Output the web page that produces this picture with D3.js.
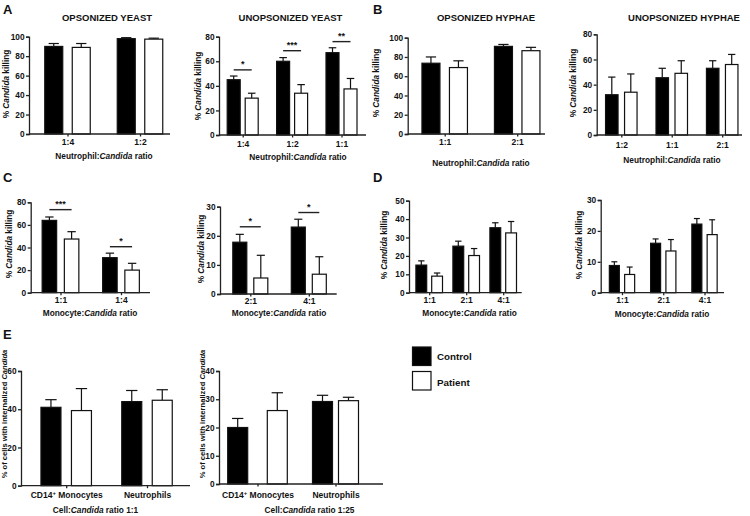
<!DOCTYPE html>
<html><head><meta charset="utf-8">
<script src="https://cdn.jsdelivr.net/npm/d3@7"></script>
<style>
body{margin:0;background:#fff;}
text{font-family:"Liberation Sans",Arial,Helvetica,sans-serif;font-weight:bold;fill:#111;}
</style></head>
<body><svg id="c" width="750" height="516"></svg>
<script>
// ---------- DATA ----------
const catsA1 = ["1:4","1:2"];
const ctrlA1 = [90,98],   ctrlErrA1 = [3,1];
const patA1  = [89,97.5], patErrA1  = [4,1];

const catsA2 = ["1:4","1:2","1:1"];
const ctrlA2 = [45,60,67],   ctrlErrA2 = [3,3,4];
const patA2  = [30,34,37.5], patErrA2  = [4,7,8.5];
const sigA2  = [{cat:"1:4",label:"*",v:53},{cat:"1:2",label:"***",v:68.6},{cat:"1:1",label:"**",v:76}];

const catsB1 = ["1:1","2:1"];
const ctrlB1 = [73.5,91], ctrlErrB1 = [6.5,2];
const patB1  = [69,86.5], patErrB1  = [7,3.5];

const catsB2 = ["1:2","1:1","2:1"];
const ctrlB2 = [32,45.5,53], ctrlErrB2 = [14,7.5,6];
const patB2  = [34,49,56],   patErrB2  = [14.5,10,8];

const catsC1 = ["1:1","1:4"];
const ctrlC1 = [64,31],   ctrlErrC1 = [3,4];
const patC1  = [47.5,20], patErrC1  = [6.5,6];
const sigC1  = [{cat:"1:1",label:"***",v:73.5},{cat:"1:4",label:"*",v:40.7}];

const catsC2 = ["2:1","4:1"];
const ctrlC2 = [17.8,23], ctrlErrC2 = [2.7,2.7];
const patC2  = [5.5,6.8], patErrC2  = [7.8,6];
const sigC2  = [{cat:"2:1",label:"*",v:23.1},{cat:"4:1",label:"*",v:28}];

const catsD1 = ["1:1","2:1","4:1"];
const ctrlD1 = [15,25.3,35.3], ctrlErrD1 = [2.3,2.7,2.7];
const patD1  = [9,20.2,32.5],  patErrD1  = [1.7,3.8,6.2];

const catsD2 = ["1:1","2:1","4:1"];
const ctrlD2 = [8.8,16,22.2], ctrlErrD2 = [1.2,1.4,1.8];
const patD2  = [5.9,13.5,18.8], patErrD2 = [2.4,3.7,4.8];

const catsE = ["CD14+ Monocytes","Neutrophils"];
const ctrlE1 = [41,44],     ctrlErrE1 = [4,5.8];
const patE1  = [39.3,44.7], patErrE1  = [11.5,5.5];
const ctrlE2 = [20,29.2],   ctrlErrE2 = [3.2,2.2];
const patE2  = [26,29.5],   patErrE2  = [6.3,1.2];

const seriesNames = ["Control","Patient"];

// ---------- LAYOUT ----------
const svg = d3.select("#c");

function richText(sel, parts){ // parts: [text, italic?, sup?]
  parts.forEach(p=>{
    const t = sel.append("tspan").text(p[0]);
    if(p[1]) t.style("font-style","italic");
    if(p[2]) t.attr("baseline-shift","super").attr("font-size","70%");
  });
}

function panel(cfg){
  const g = svg.append("g");
  const y = d3.scaleLinear().domain([0,cfg.max]).range([cfg.y0,cfg.yTop]);
  const x = d3.scalePoint().domain(cfg.cats).range([cfg.c0,cfg.c1]);
  cfg.cats.forEach((c,i)=>{
    const gap = cfg.gaps ? cfg.gaps[i] : cfg.gap;
    const bw = cfg.bw;
    const sub = d3.scaleBand().domain(seriesNames)
      .range([-(bw+gap/2), bw+gap/2]).paddingInner(gap/(bw+gap)).paddingOuter(0);
    const vals = [[cfg.ctrl[i],cfg.ctrlErr[i]],[cfg.pat[i],cfg.patErr[i]]];
    seriesNames.forEach((s,k)=>{
      const xl = x(c)+sub(s);
      const v = vals[k][0], e = vals[k][1];
      const cx = xl + sub.bandwidth()/2;
      g.append("line").attr("x1",cx).attr("x2",cx).attr("y1",y(v)).attr("y2",y(v+e))
        .attr("stroke","#111").attr("stroke-width",1.2);
      g.append("line").attr("x1",cx-sub.bandwidth()*0.27).attr("x2",cx+sub.bandwidth()*0.27)
        .attr("y1",y(v+e)).attr("y2",y(v+e)).attr("stroke","#111").attr("stroke-width",1.2);
      g.append("rect").attr("x",xl+0.5).attr("y",y(v)).attr("width",sub.bandwidth()-1)
        .attr("height",y(0)-y(v))
        .attr("fill", k===0?"#000":"#fff").attr("stroke","#111").attr("stroke-width",1.2);
    });
    if(cfg.sig){
      cfg.sig.filter(d=>d.cat===c).forEach(d=>{
        const xa = x(c)+sub("Control")+sub.bandwidth()/2, xb = x(c)+sub("Patient")+sub.bandwidth()/2;
        g.append("line").attr("x1",xa).attr("x2",xb).attr("y1",y(d.v)).attr("y2",y(d.v))
          .attr("stroke","#222").attr("stroke-width",1.4);
        g.append("text").attr("x",(xa+xb)/2).attr("y",y(d.v)-2.5).attr("text-anchor","middle")
          .attr("font-size",9).text(d.label);
      });
    }
  });
  // y axis
  const ya = g.append("g").attr("transform",`translate(${cfg.x0},0)`)
    .call(d3.axisLeft(y).tickValues(d3.range(0,cfg.max+0.001,cfg.step)).tickSize(3).tickPadding(1.5).tickFormat(d3.format("d")));
  ya.attr("font-family",null);
  ya.selectAll("text").attr("font-size",8.3);
  ya.selectAll("line,path").attr("stroke","#222").attr("stroke-width",1.3);
  // x axis
  const xa = g.append("g").attr("transform",`translate(0,${cfg.y0})`)
    .call(d3.axisBottom(x).tickSize(2.5).tickPadding(cfg.tickPad));
  xa.select(".domain").remove();
  xa.attr("font-family",null);
  xa.selectAll("line").attr("stroke","#222").attr("stroke-width",1.3);
  xa.selectAll("text").attr("font-size",8.5).each(function(d){
    const t = d3.select(this); t.text(null);
    if(d.indexOf("CD14+")===0){ richText(t,[["CD14"],["+",false,true],[d.slice(5)]]); }
    else t.text(d);
  });
  g.append("line").attr("x1",cfg.x0).attr("x2",cfg.x1).attr("y1",cfg.y0).attr("y2",cfg.y0)
    .attr("stroke","#222").attr("stroke-width",1.3);
  // titles
  if(cfg.title) g.append("text").attr("x",cfg.title[0]).attr("y",cfg.title[1]).attr("text-anchor","middle")
    .attr("font-size",9.5).text(cfg.title[2]);
  const xt = g.append("text").attr("x",cfg.xt[0]).attr("y",cfg.xt[1]).attr("text-anchor","middle").attr("font-size",8.3);
  richText(xt, cfg.xt[2]);
  const yt = g.append("text").attr("transform",`translate(${cfg.yt[0]},${cfg.yt[1]}) rotate(-90)`)
    .attr("text-anchor","middle").attr("font-size",cfg.ytSize||8.3);
  richText(yt, cfg.yt[2]);
}

const neutT = [["Neutrophil:"],["Candida",true],[" ratio"]];
const monoT = [["Monocyte:"],["Candida",true],[" ratio"]];
const killT = [["% "],["Candida",true],[" killing"]];
const intT  = [["% of cells with internalized "],["Candida",true]];

panel({cats:catsA1,ctrl:ctrlA1,ctrlErr:ctrlErrA1,pat:patA1,patErr:patErrA1,
  x0:29,x1:170,y0:134,yTop:36.7,max:100,step:20,c0:67.5,c1:140,bw:19,gap:8.5,tickPad:2,
  title:[107,21,"OPSONIZED YEAST"],xt:[104,159,neutT],yt:[9,84,killT]});
panel({cats:catsA2,ctrl:ctrlA2,ctrlErr:ctrlErrA2,pat:patA2,patErr:patErrA2,sig:sigA2,
  x0:219,x1:366,y0:135,yTop:36.7,max:80,step:20,c0:242.7,c1:341.5,bw:14,gap:4,tickPad:3,
  title:[290.5,21,"UNOPSONIZED YEAST"],xt:[298,160,neutT],yt:[201,86,killT]});
panel({cats:catsB1,ctrl:ctrlB1,ctrlErr:ctrlErrB1,pat:patB1,patErr:patErrB1,
  x0:407.7,x1:545,y0:134,yTop:37.7,max:100,step:20,c0:444.7,c1:517.2,bw:19,gap:8.5,tickPad:2,
  title:[486,21,"OPSONIZED HYPHAE"],xt:[481,166,neutT],yt:[379,83,killT]});
panel({cats:catsB2,ctrl:ctrlB2,ctrlErr:ctrlErrB2,pat:patB2,patErr:patErrB2,
  x0:596.7,x1:742,y0:135,yTop:34.3,max:80,step:20,c0:621.3,c1:722.2,bw:13.5,gap:5.5,tickPad:4.5,
  title:[684,21,"UNOPSONIZED HYPHAE"],xt:[672,163,neutT],yt:[576,83,killT]});
panel({cats:catsC1,ctrl:ctrlC1,ctrlErr:ctrlErrC1,pat:patC1,patErr:patErrC1,sig:sigC1,
  x0:30.7,x1:150,y0:292.7,yTop:202.3,max:80,step:20,c0:60.5,c1:121,bw:15.5,gap:6.7,tickPad:1.5,
  xt:[90,316,monoT],yt:[12,244,killT]});
panel({cats:catsC2,ctrl:ctrlC2,ctrlErr:ctrlErrC2,pat:patC2,patErr:patErrC2,sig:sigC2,
  x0:220,x1:336.7,y0:294,yTop:206.7,max:30,step:10,c0:250.3,c1:308.8,bw:15,gap:6,tickPad:1.7,
  xt:[279,316,monoT],yt:[204,249,killT]});
panel({cats:catsD1,ctrl:ctrlD1,ctrlErr:ctrlErrD1,pat:patD1,patErr:patErrD1,
  x0:409,x1:521.7,y0:292.7,yTop:200.7,max:50,step:10,c0:429.2,c1:503.2,bw:11.8,gap:4,tickPad:1.5,
  xt:[469.5,316,monoT],yt:[387,245,killT]});
panel({cats:catsD2,ctrl:ctrlD2,ctrlErr:ctrlErrD2,pat:patD2,patErr:patErrD2,
  x0:600.7,x1:724,y0:292.7,yTop:200,max:30,step:10,c0:622,c1:704.5,bw:11,gap:4.3,tickPad:1.5,
  xt:[662,317,monoT],yt:[582,245,killT]});
panel({cats:catsE,ctrl:ctrlE1,ctrlErr:ctrlErrE1,pat:patE1,patErr:patErrE1,
  x0:21,x1:190,y0:485.7,yTop:371,max:60,step:20,c0:66.2,c1:147,bw:21,gap:9.5,tickPad:4,
  xt:[95.5,513,[["Cell:"],["Candida",true],[" ratio 1:1"]]],yt:[7,414,intT],ytSize:7.6});
panel({cats:catsE,ctrl:ctrlE2,ctrlErr:ctrlErrE2,pat:patE2,patErr:patErrE2,
  x0:219,x1:383,y0:484,yTop:371,max:40,step:10,c0:257.5,c1:335.5,bw:21,gaps:[18.6,5],tickPad:5.5,
  xt:[309.5,513,[["Cell:"],["Candida",true],[" ratio 1:25"]]],yt:[205,414,intT],ytSize:7.6});

// panel letters
[["A",3,14],["B",373,14],["C",3,182],["D",373,182],["E",3,339]].forEach(d=>{
  svg.append("text").attr("x",d[1]).attr("y",d[2]).attr("font-size",13).text(d[0]);
});

// legend
const leg = svg.append("g");
seriesNames.forEach((s,i)=>{
  leg.append("rect").attr("x",412.5).attr("y",347+i*24.5).attr("width",18.5).attr("height",18.5)
    .attr("fill",i===0?"#000":"#fff").attr("stroke","#111").attr("stroke-width",1.2);
  leg.append("text").attr("x",437).attr("y",360+i*25.5).attr("font-size",9.8).text(s);
});
</script></body></html>
